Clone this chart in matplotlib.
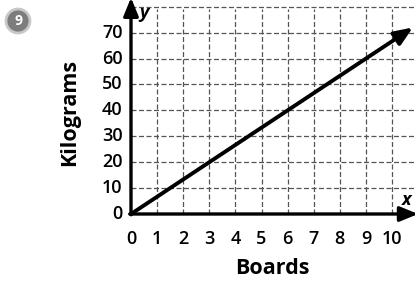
import matplotlib
matplotlib.use("Agg")
import matplotlib.pyplot as plt
import matplotlib.patches as mpatches
import numpy as np

# data
boards = [0, 3, 6, 9, 10.8]
kilograms = [0, 20, 40, 60, 72]
x_ticks = list(range(0, 11))
y_ticks = list(range(0, 80, 10))

plt.rcParams['font.family'] = ['Open Sans', 'DejaVu Sans']

fig = plt.figure(figsize=(4.15, 2.84), dpi=100)
ax = fig.add_axes([131 / 415, 70 / 284, 284 / 415, 214 / 284])
ax.set_xlim(0, 10.88)
ax.set_ylim(0, 82.6)

# grid
for xv in range(1, 11):
    ax.plot([xv, xv], [0, 79], color='#555555', lw=0.9, ls=(0, (4, 2)), zorder=1)
for yv in range(10, 90, 10):
    ax.plot([0, 10.88], [yv, yv], color='#555555', lw=0.9, ls=(0, (4, 2)), zorder=1)

for s in ax.spines.values():
    s.set_visible(False)
ax.set_xticks([])
ax.set_yticks([])

head = '-|>,head_length=1.1,head_width=0.45'
# axes with arrows
ax.annotate('', xy=(0, 83.5), xytext=(0, -0.3), annotation_clip=False,
            arrowprops=dict(arrowstyle=head, color='black', lw=2.4,
                            shrinkA=0, shrinkB=0))
ax.annotate('', xy=(11.0, 0), xytext=(-0.05, 0), annotation_clip=False,
            arrowprops=dict(arrowstyle=head, color='black', lw=2.4,
                            shrinkA=0, shrinkB=0))

# the line
ax.annotate('', xy=(boards[-1], kilograms[-1]), xytext=(boards[0], kilograms[0]),
            annotation_clip=False,
            arrowprops=dict(arrowstyle=head, color='black', lw=2.8,
                            shrinkA=0, shrinkB=0))

# tick labels
for xv in x_ticks:
    ax.text(xv, -9.5, str(xv), ha='center', va='center', fontsize=13,
            fontweight='semibold', clip_on=False)
for yv in y_ticks:
    ax.text(-0.33, yv, str(yv), ha='right', va='center', fontsize=13,
            fontweight='semibold', clip_on=False)

ax.text(0.3, 77.5, 'y', fontsize=13, fontstyle='italic', fontweight='bold',
        ha='left', va='center')
ax.text(10.55, 5.5, 'x', fontsize=13, fontstyle='italic', fontweight='bold',
        ha='center', va='center')

fig.text(272 / 415, 1 - 268 / 284, 'Boards', fontsize=15.5, fontweight='bold',
         ha='center', va='center')
fig.text(70 / 415, 1 - 112 / 284, 'Kilograms', fontsize=15.5, fontweight='bold',
         ha='center', va='center', rotation=90)

# problem number badge
badge = mpatches.Ellipse((18 / 415, 1 - 21 / 284), 24 / 415, 24 / 284,
                         transform=fig.transFigure,
                         facecolor='#7d7d7d', edgecolor='#c8c8c8', lw=2)
fig.add_artist(badge)
fig.text(18 / 415, 1 - 21 / 284, '9', fontsize=10, fontweight='bold', color='white',
         ha='center', va='center')

fig.savefig('out.png', dpi=100)
